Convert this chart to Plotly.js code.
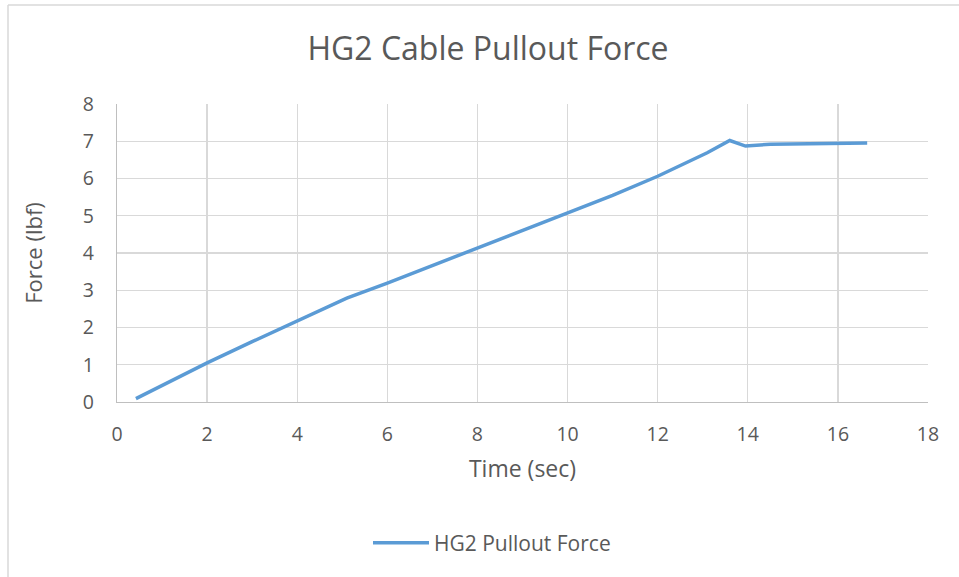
<!DOCTYPE html>
<html>
<head>
<meta charset="utf-8">
<script src="https://cdn.plot.ly/plotly-3.0.1.min.js"></script>
<style>
html,body{margin:0;padding:0;background:#fff;}
#chart{width:959px;height:577px;}
</style>
</head>
<body>
<div id="chart"></div>
<script>
const timeSec = [0.42, 1.0, 2.0, 3.0, 4.0, 5.1, 6.0, 7.0, 8.0, 9.0, 10.0, 11.0, 12.0, 13.1, 13.6, 13.95, 14.5, 15.5, 16.65];
const forceLbf = [0.09, 0.44, 1.05, 1.62, 2.17, 2.79, 3.19, 3.66, 4.13, 4.59, 5.06, 5.55, 6.06, 6.69, 7.02, 6.87, 6.92, 6.93, 6.95];
const seriesName = "HG2 Pullout Force";
const chartTitle = "HG2 Cable Pullout Force";
const xTitle = "Time (sec)";
const yTitle = "Force (lbf)";

const W = 959, H = 577;
const L = 117, R = 31, T = 104, B = 175;
const pw = W - L - R, ph = H - T - B;
const font = "Open Sans, Liberation Sans, sans-serif";

Plotly.newPlot("chart", [{
  x: timeSec, y: forceLbf, type: "scatter", mode: "lines", name: seriesName,
  line: {color: "#5b9bd5", width: 3.5}
}], {
  width: W, height: H,
  margin: {l: L, r: R, t: T, b: B},
  paper_bgcolor: "#fff", plot_bgcolor: "#fff",
  font: {family: font, color: "#595959"},
  title: {text: chartTitle, font: {size: 32, color: "#595959", family: font}, x: 488/W, xanchor: "center", y: 1 - 49/H, yanchor: "middle"},
  xaxis: {range: [0, 18], dtick: 2, showgrid: true, gridcolor: "#d9d9d9", gridwidth: 1.3,
    showline: true, linecolor: "#bfbfbf", linewidth: 1.3, zeroline: false, ticks: "",
    tickfont: {size: 19.5, color: "#595959"}, ticklabelstandoff: 14,
    title: {text: xTitle, font: {size: 23, color: "#595959"}, standoff: 15}},
  yaxis: {range: [0, 8], dtick: 1, showgrid: true, gridcolor: "#d9d9d9", gridwidth: 1.3,
    showline: true, linecolor: "#bfbfbf", linewidth: 1.3, zeroline: false, ticks: "",
    tickfont: {size: 19.5, color: "#595959"}, ticklabelstandoff: 18,
    title: {text: yTitle, font: {size: 22, color: "#595959"}, standoff: 34}},
  showlegend: true,
  legend: {orientation: "h", x: (492 - L)/pw, xanchor: "center", y: -(543 - 402)/ph, yanchor: "middle",
    font: {size: 21, color: "#595959"}, itemwidth: 56},
  shapes: [
    {type: "line", xref: "paper", yref: "paper", x0: (8 - L)/pw, x1: (W + 5 - L)/pw, y0: 1 + (T - 5)/ph, y1: 1 + (T - 5)/ph, line: {color: "#d9d9d9", width: 1.5}},
    {type: "line", xref: "paper", yref: "paper", x0: (8 - L)/pw, x1: (8 - L)/pw, y0: 1 + (T - 5)/ph, y1: -(B + 5)/ph, line: {color: "#d9d9d9", width: 1.5}}
  ]
}, {displayModeBar: false, staticPlot: true});
</script>
</body>
</html>
